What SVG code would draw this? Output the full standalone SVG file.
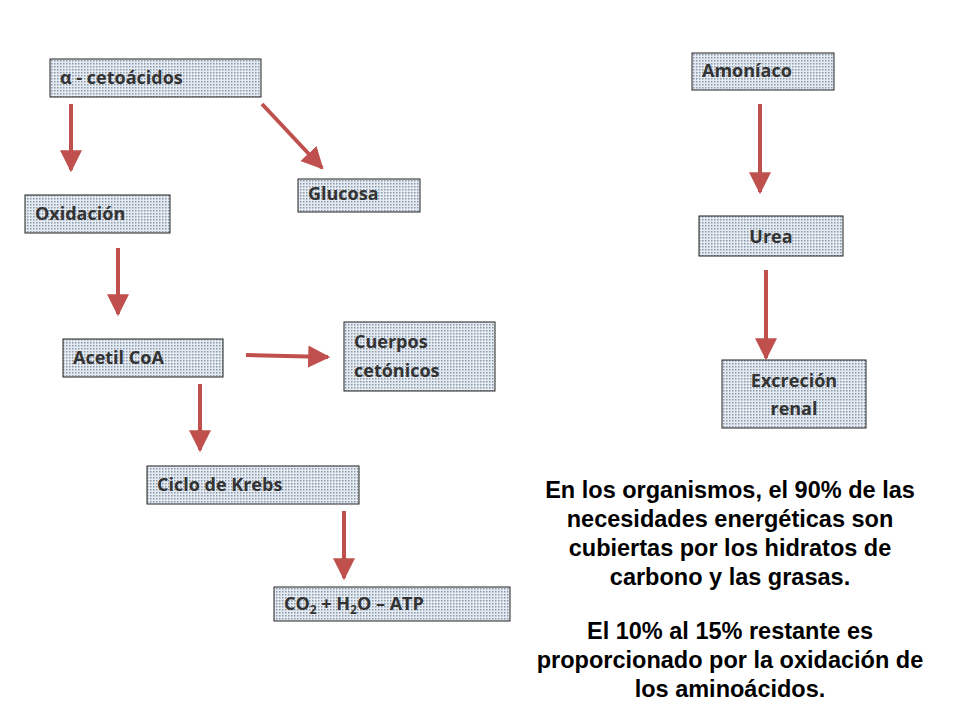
<svg xmlns="http://www.w3.org/2000/svg" width="960" height="720" viewBox="0 0 960 720">
<defs>
<pattern id="dots" width="3" height="3" patternUnits="userSpaceOnUse"><rect width="3" height="3" fill="#e4ebf2"/><rect width="1.5" height="1.5" fill="#8b97a6"/></pattern>
<marker id="ah" viewBox="0 0 10 10" refX="9" refY="5" markerWidth="5.5" markerHeight="5.5" orient="auto" markerUnits="strokeWidth"><path d="M0,0 L10,5 L0,10 z" fill="#c0504d"/></marker>
</defs>
<style>
.b{fill:url(#dots);stroke:#222;stroke-width:1}
.t{font-family:"Open Sans","Liberation Sans",sans-serif;font-weight:bold;font-size:18px;fill:#333}
.a{stroke:#c0504d;stroke-width:4;fill:none;marker-end:url(#ah)}
.p{font-family:"Liberation Sans",Arial,sans-serif;font-weight:bold;font-size:23.5px;fill:#000;text-anchor:middle}
</style>
<rect width="960" height="720" fill="#fff"/>
<g id="n1"><rect class="b" x="50" y="59" width="211" height="38"/><text class="t" x="60" y="84">α - cetoácidos</text></g>
<g id="n2"><rect class="b" x="25" y="195" width="145" height="38"/><text class="t" x="35" y="220">Oxidación</text></g>
<g id="n3"><rect class="b" x="298" y="179" width="122" height="33"/><text class="t" x="308" y="200">Glucosa</text></g>
<g id="n4"><rect class="b" x="63" y="339" width="160" height="38"/><text class="t" x="73" y="364">Acetil CoA</text></g>
<g id="n5"><rect class="b" x="344" y="322" width="151" height="69"/><text class="t" x="354" y="348">Cuerpos</text><text class="t" x="354" y="377">cetónicos</text></g>
<g id="n6"><rect class="b" x="147" y="466" width="212" height="38"/><text class="t" x="157" y="491">Ciclo de Krebs</text></g>
<g id="n7"><rect class="b" x="274" y="587" width="236" height="34"/><text class="t" x="284" y="610">CO<tspan font-size="12" dy="4">2</tspan><tspan dy="-4">  + H</tspan><tspan font-size="12" dy="4">2</tspan><tspan dy="-4">O – ATP</tspan></text></g>
<g id="n8"><rect class="b" x="692" y="53" width="142" height="37"/><text class="t" x="702" y="77">Amoníaco</text></g>
<g id="n9"><rect class="b" x="699" y="216" width="144" height="40"/><text class="t" x="771" y="243" text-anchor="middle">Urea</text></g>
<g id="n10"><rect class="b" x="722" y="360" width="144" height="68"/><text class="t" x="794" y="387" text-anchor="middle">Excreción</text><text class="t" x="794" y="415" text-anchor="middle">renal</text></g>
<g id="connectors">
<line class="a" x1="71" y1="104" x2="71" y2="170"/>
<line class="a" x1="262" y1="104" x2="322" y2="168"/>
<line class="a" x1="118" y1="248" x2="118" y2="314"/>
<line class="a" x1="246" y1="355" x2="328" y2="357"/>
<line class="a" x1="200" y1="384" x2="200" y2="450"/>
<line class="a" x1="344" y1="511" x2="344" y2="578"/>
<line class="a" x1="760" y1="104" x2="760" y2="192"/>
<line class="a" x1="766" y1="270" x2="766" y2="358"/>
</g>
<g id="note">
<text class="p" x="730" y="498">En los organismos, el 90% de las</text>
<text class="p" x="730" y="527">necesidades energéticas son</text>
<text class="p" x="730" y="556">cubiertas por los hidratos de</text>
<text class="p" x="730" y="585">carbono y las grasas.</text>
<text class="p" x="730" y="639">El 10% al 15% restante es</text>
<text class="p" x="730" y="668">proporcionado por la oxidación de</text>
<text class="p" x="730" y="697">los aminoácidos.</text>
</g>
</svg>
